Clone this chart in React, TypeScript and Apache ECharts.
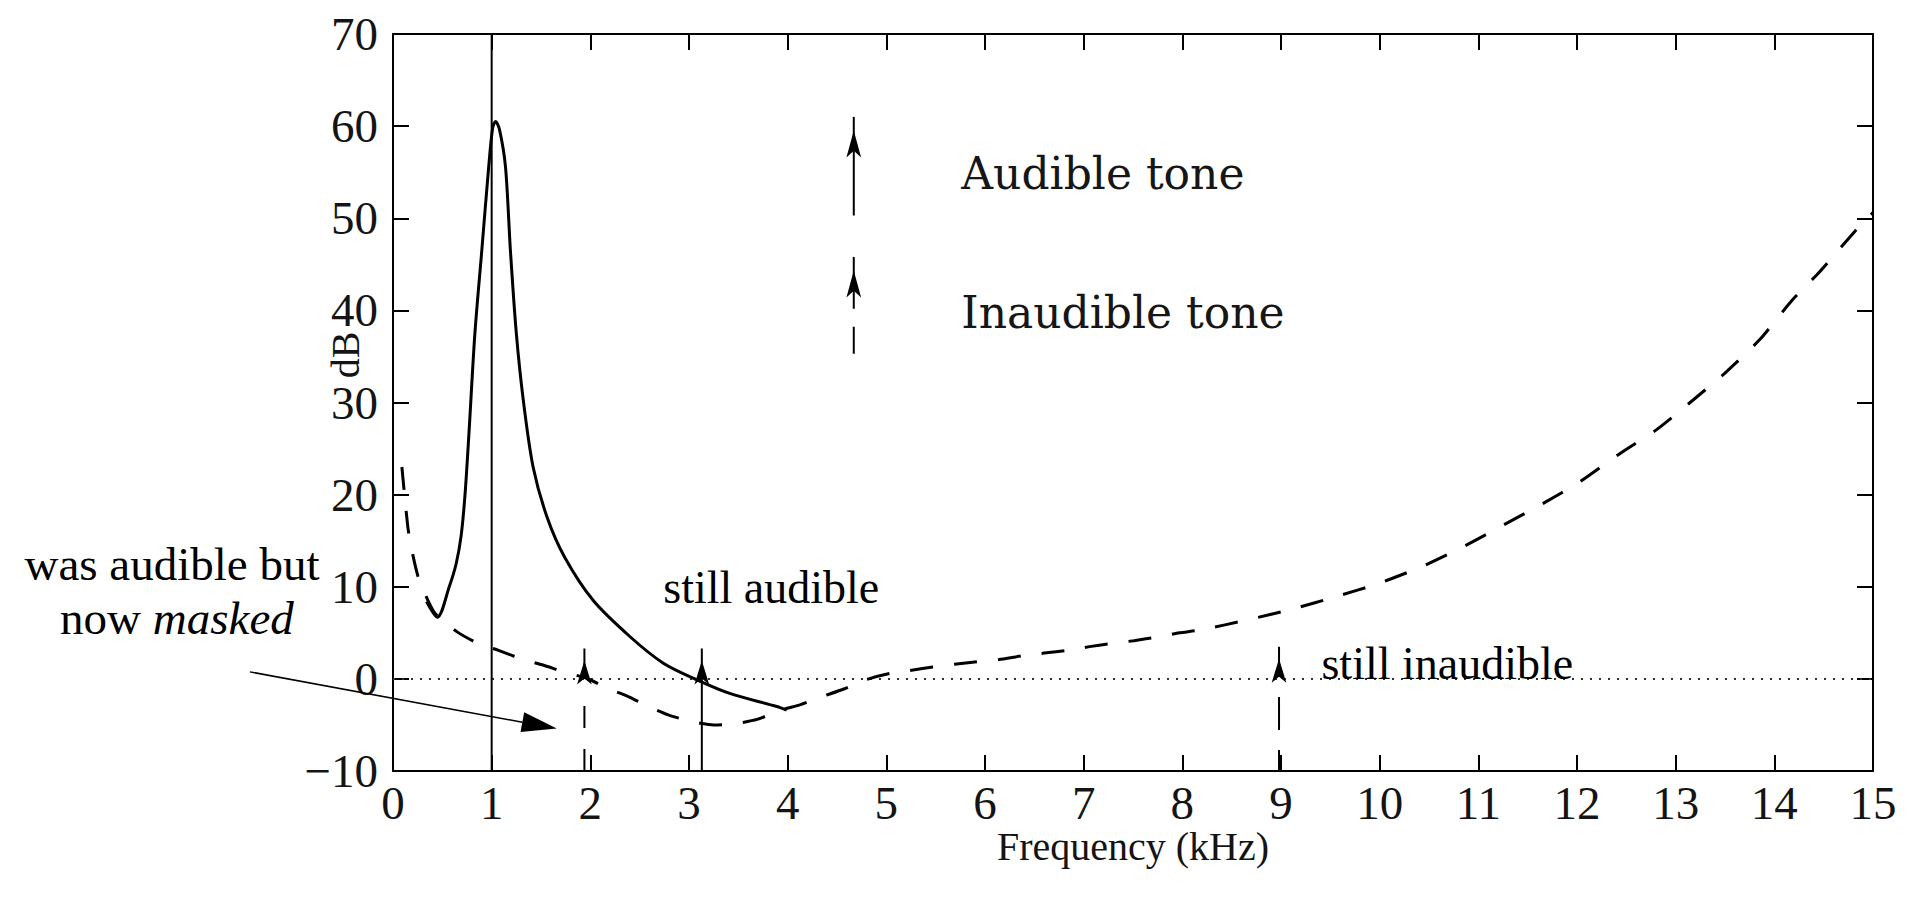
import React, { useEffect, useRef } from "react";
import * as echarts from "echarts";

// ---- data ----
const xTickValues = [0, 15, 1]; // min, max, interval (kHz)
const yTickValues = [-10, 70, 10]; // min, max, interval (dB)

// masking curve produced by the 1 kHz masker (solid)
const maskingCurve: [number, number][] = [
  [0.34, 8.4], [0.45, 6.7], [0.57, 10.0], [0.64, 12.5], [0.69, 15.5], [0.73, 20.0],
  [0.77, 26.7], [0.83, 37.5], [0.9, 46.5], [0.97, 55.6], [1.01, 59.8], [1.04, 60.5],
  [1.08, 59.6], [1.14, 55.6], [1.19, 46.5], [1.25, 37.5], [1.32, 30.3], [1.42, 23.0],
  [1.56, 17.6], [1.74, 13.2], [2.03, 8.5], [2.4, 4.6], [2.74, 1.7], [3.08, -0.1],
  [3.42, -1.6], [3.89, -3.0], [3.99, -3.4],
];

// threshold of hearing in quiet (dashed)
const thresholdCurve: [number, number][] = [
  [0.09, 23.0], [0.15, 16.5], [0.19, 14.0], [0.26, 10.9], [0.42, 7.2], [0.65, 5.1],
  [0.87, 3.8], [1.07, 3.1], [1.29, 2.2], [1.52, 1.5], [1.73, 0.76], [1.97, 0.04],
  [2.17, -1.0], [2.39, -1.95], [2.57, -2.9], [2.79, -3.9], [3.01, -4.6], [3.25, -5.0],
  [3.45, -4.9], [3.69, -4.4], [3.93, -3.4], [4.13, -2.8], [4.33, -2.0], [4.57, -1.1],
  [4.79, -0.1], [5.02, 0.55], [5.23, 0.9], [5.47, 1.3], [5.69, 1.6], [5.92, 1.85],
  [6.14, 2.1], [6.38, 2.5], [6.6, 2.8], [6.84, 3.1], [7.06, 3.5], [7.29, 3.85],
  [7.51, 4.15], [7.75, 4.55], [7.97, 5.0], [8.18, 5.3], [8.66, 6.4], [9.12, 7.6],
  [9.55, 8.9], [10.0, 10.4], [10.43, 12.2], [10.84, 14.3], [11.22, 16.5], [11.65, 19.0],
  [12.03, 21.4], [12.44, 24.5], [12.8, 27.0], [13.18, 30.3], [13.5, 33.2], [13.85, 36.8],
  [14.18, 41.1], [14.46, 44.2], [14.9, 49.6], [15.0, 50.6],
];

// the 1 kHz masker tone (thin vertical line)
const maskerLine: [number, number][] = [[1, -10], [1, 70]];

// zero-dB reference (dotted)
const zeroLine: [number, number][] = [[0, 0], [15, 0]];

// test tones: frequency, level of arrow tip, audible?
const toneFreqs = [1.94, 3.13, 8.98];
const toneTops = [3.3, 3.3, 3.5];
const toneAudible = [false, true, false];
const toneDash: (number[] | null)[] = [[22, 21, 22, 28, 60], null, [21, 20, 33, 20, 60]];

// legend arrows: frequency, bottom, top
const legendArrowX = 4.67;
const legendAudible = [50.3, 61.0];
const legendInaudible = [35.3, 45.8];

// annotations (data coordinates)
const legendLabels = ["Audible tone", "Inaudible tone"];
const legendLabelPos: [number, number][] = [[5.76, 53.2], [5.76, 38.2]];
const noteStillAudible = { text: "still audible", pos: [2.74, 8.19] as [number, number] };
const noteStillInaudible = { text: "still inaudible", pos: [9.41, 0.0] as [number, number] };
const noteMaskedLine1 = { text: "was audible but", pos: [-2.24, 10.7] as [number, number] };
const noteMaskedLine2 = { pos: [-2.19, 4.93] as [number, number] };
const maskArrowFrom: [number, number] = [-1.45, 0.76];
const maskArrowTo: [number, number] = [1.66, -5.39];

const SERIF = "'Liberation Serif', 'Times New Roman', serif";
const SERIF2 = "'DejaVu Serif', 'Liberation Serif', serif";

export default function App() {
  const ref = useRef<HTMLDivElement>(null);

  useEffect(() => {
    if (!ref.current) return;
    const chart = echarts.init(ref.current, undefined, { renderer: "svg" });

    const axisLine = { show: true, onZero: false, lineStyle: { color: "#000", width: 2 } };
    const axisTick = { show: true, inside: true, length: 16, lineStyle: { color: "#000", width: 2 } };
    const labelStyle = { fontFamily: SERIF, fontSize: 47, color: "#141414" };

    const arrowItem = (x: number, y: number, w: number, h: number) => ({
      value: [x, y],
      symbol: "arrow",
      symbolSize: [w, h],
      symbolOffset: [0, h / 2],
      itemStyle: { color: "#000" },
    });

    const series: any[] = [
      {
        type: "line",
        data: zeroLine,
        symbol: "none",
        lineStyle: { color: "#333", width: 2, type: [2, 7] },
        silent: true,
        z: 1,
      },
      {
        type: "line",
        data: maskerLine,
        symbol: "none",
        lineStyle: { color: "#000", width: 2 },
        silent: true,
        z: 3,
      },
      {
        type: "line",
        data: maskingCurve,
        symbol: "none",
        smooth: 0.3,
        lineStyle: { color: "#000", width: 3 },
        silent: true,
        z: 4,
      },
      {
        type: "line",
        data: thresholdCurve,
        symbol: "none",
        smooth: 0.2,
        lineStyle: { color: "#000", width: 3, type: [23, 21] },
        silent: true,
        z: 4,
      },
    ];

    toneFreqs.forEach((f, i) => {
      series.push({
        type: "line",
        data: [[f, yTickValues[0]], arrowItem(f, toneTops[i], 11, 24)],
        symbol: "none",
        showSymbol: true,
        lineStyle: {
          color: "#000",
          width: 2,
          type: toneAudible[i] ? "solid" : toneDash[i],
        },
        itemStyle: { color: "#000" },
        silent: true,
        clip: false,
        z: 5,
      });
    });

    series.push({
      type: "line",
      data: [[legendArrowX, legendAudible[0]], arrowItem(legendArrowX, legendAudible[1], 11, 27)],
      symbol: "none",
      showSymbol: true,
      lineStyle: { color: "#000", width: 2 },
      itemStyle: { color: "#000" },
      silent: true,
      z: 5,
    });
    series.push({
      type: "line",
      data: [[legendArrowX, legendInaudible[0]], arrowItem(legendArrowX, legendInaudible[1], 11, 27)],
      symbol: "none",
      showSymbol: true,
      lineStyle: { color: "#000", width: 2, type: [27, 18, 60] },
      itemStyle: { color: "#000" },
      silent: true,
      z: 5,
    });

    chart.setOption({
      animation: false,
      backgroundColor: "#fff",
      grid: { left: 393, right: 34, top: 34, bottom: 128, containLabel: false },
      xAxis: [
        {
          type: "value",
          position: "bottom",
          min: xTickValues[0],
          max: xTickValues[1],
          interval: xTickValues[2],
          axisLine,
          axisTick,
          splitLine: { show: false },
          axisLabel: { ...labelStyle, margin: 8 },
          name: "Frequency (kHz)",
          nameLocation: "middle",
          nameGap: 55,
          nameMoveOverlap: false,
          nameTextStyle: { fontFamily: SERIF, fontSize: 40, color: "#141414" },
        },
        {
          type: "value",
          position: "top",
          min: xTickValues[0],
          max: xTickValues[1],
          interval: xTickValues[2],
          axisLine,
          axisTick,
          splitLine: { show: false },
          axisLabel: { show: false },
        },
      ],
      yAxis: [
        {
          type: "value",
          position: "left",
          min: yTickValues[0],
          max: yTickValues[1],
          interval: yTickValues[2],
          axisLine,
          axisTick,
          splitLine: { show: false },
          axisLabel: {
            ...labelStyle,
            margin: 15,
            formatter: (v: number) => (v < 0 ? "\u2212" + Math.abs(v) : String(v)),
          },
        },
        {
          type: "value",
          position: "right",
          min: yTickValues[0],
          max: yTickValues[1],
          interval: yTickValues[2],
          axisLine,
          axisTick,
          splitLine: { show: false },
          axisLabel: { show: false },
        },
      ],
      series,
    });

    const px = (p: [number, number]) =>
      chart.convertToPixel({ gridIndex: 0 }, p) as number[];

    const baselineText = (
      text: string,
      p: [number, number],
      align: string,
      fontSize: number,
      family: string,
      color: string
    ) => {
      const q = px(p);
      return {
        type: "text",
        x: q[0],
        y: q[1] - 0.3375 * fontSize,
        silent: true,
        z: 10,
        style: {
          text,
          fill: color,
          font: `${fontSize}px ${family}`,
          align,
          textAlign: align,
          verticalAlign: "middle",
          textVerticalAlign: "middle",
        },
      };
    };

    const s = px(maskArrowFrom);
    const e = px(maskArrowTo);
    const dx = e[0] - s[0];
    const dy = e[1] - s[1];
    const len = Math.sqrt(dx * dx + dy * dy);
    const ux = dx / len;
    const uy = dy / len;
    const L = 35;
    const W = 10;
    const bx = e[0] - ux * L;
    const by = e[1] - uy * L;

    const graphics: any[] = [
      baselineText(legendLabels[0], legendLabelPos[0], "left", 44, SERIF2, "#161616"),
      baselineText(legendLabels[1], legendLabelPos[1], "left", 44, SERIF2, "#161616"),
      baselineText(noteStillAudible.text, noteStillAudible.pos, "left", 46, SERIF, "#000"),
      baselineText(noteStillInaudible.text, noteStillInaudible.pos, "left", 46, SERIF, "#000"),
      baselineText(noteMaskedLine1.text, noteMaskedLine1.pos, "center", 47, SERIF, "#000"),
      (() => {
        const q = px(noteMaskedLine2.pos);
        return {
          type: "text",
          x: q[0],
          y: q[1] - 0.3375 * 47,
          silent: true,
          z: 10,
          style: {
            text: "{a|now }{b|masked}",
            align: "center",
            textAlign: "center",
            verticalAlign: "middle",
            textVerticalAlign: "middle",
            fill: "#000",
            font: `47px ${SERIF}`,
            rich: {
              a: { fontFamily: SERIF, fontSize: 47, fill: "#000", color: "#000" },
              b: { fontFamily: SERIF, fontSize: 47, fontStyle: "italic", fill: "#000", color: "#000" },
            },
          },
        };
      })(),
      {
        type: "line",
        silent: true,
        z: 10,
        shape: { x1: s[0], y1: s[1], x2: bx, y2: by },
        style: { stroke: "#000", lineWidth: 1.5 },
      },
      {
        type: "polygon",
        silent: true,
        z: 10,
        shape: {
          points: [
            [e[0], e[1]],
            [bx - uy * W, by + ux * W],
            [bx + uy * W, by - ux * W],
          ],
        },
        style: { fill: "#000" },
      },
      {
        type: "text",
        x: 345,
        y: 355,
        rotation: Math.PI / 2,
        silent: true,
        style: {
          text: "dB",
          font: `40px ${SERIF}`,
          fill: "#141414",
          align: "center",
          textAlign: "center",
          verticalAlign: "middle",
          textVerticalAlign: "middle",
        },
      },
    ];

    chart.setOption({ graphic: graphics });

    return () => {
      chart.dispose();
    };
  }, []);

  return (
    <div
      ref={ref}
      style={{ position: "absolute", left: 0, top: 0, width: 1907, height: 899, background: "#fff" }}
    />
  );
}
